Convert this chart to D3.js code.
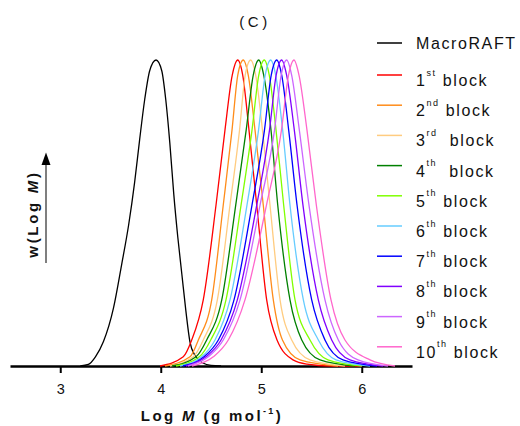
<!DOCTYPE html>
<html>
<head>
<meta charset="utf-8">
<script src="https://cdn.jsdelivr.net/npm/d3@7"></script>
<style>
  body { margin: 0; background: #fff; }
  text { font-family: "Liberation Sans", Arial, sans-serif; fill: #111; }
</style>
</head>
<body>
<div id="chart"></div>
<script>
// GPC traces, [log M, normalised w(log M)]
const macroRAFT = [[3.20,0],[3.28,0.005],[3.35,0.03],[3.43,0.08],[3.53,0.19],[3.61,0.33],[3.68,0.46],[3.74,0.60],[3.79,0.74],[3.84,0.87],[3.89,0.965],[3.953,1.0],[4.01,0.965],[4.05,0.87],[4.09,0.73],[4.13,0.56],[4.17,0.42],[4.21,0.30],[4.25,0.18],[4.29,0.08],[4.34,0.035],[4.42,0.01],[4.5,0.002],[4.6,0]];
const block1 = [[3.993,0],[4.224,0.03],[4.308,0.085],[4.423,0.216],[4.550,0.526],[4.639,0.771],[4.711,0.95],[4.766,1],[4.816,0.95],[4.878,0.771],[4.955,0.526],[5.054,0.216],[5.157,0.085],[5.316,0.02],[5.455,0.006],[5.684,0],[6.0,0]];
const block2 = [[4.042,0],[4.291,0.03],[4.374,0.085],[4.507,0.216],[4.622,0.526],[4.709,0.771],[4.766,0.95],[4.821,1],[4.871,0.95],[4.938,0.771],[5.020,0.526],[5.120,0.216],[5.211,0.085],[5.386,0.02],[5.764,0]];
const block3 = [[4.092,0],[4.324,0.03],[4.423,0.085],[4.563,0.216],[4.689,0.526],[4.784,0.771],[4.840,0.95],[4.895,1],[4.945,0.95],[5.012,0.771],[5.087,0.526],[5.187,0.216],[5.303,0.085],[5.485,0.02],[5.833,0]];
const block4 = [[4.112,0],[4.351,0.03],[4.457,0.085],[4.607,0.216],[4.746,0.526],[4.850,0.771],[4.920,0.95],[4.975,1],[5.025,0.95],[5.097,0.771],[5.164,0.526],[5.286,0.216],[5.403,0.085],[5.585,0.02],[5.933,0]];
const block5 = [[4.152,0],[4.384,0.03],[4.497,0.085],[4.649,0.216],[4.799,0.526],[4.908,0.771],[4.975,0.95],[5.030,1],[5.080,0.95],[5.147,0.771],[5.223,0.526],[5.336,0.216],[5.485,0.085],[5.664,0.02],[6.002,0]];
const block6 = [[4.192,0],[4.407,0.03],[4.540,0.085],[4.689,0.216],[4.858,0.526],[4.973,0.771],[5.039,0.95],[5.094,1],[5.144,0.95],[5.213,0.771],[5.286,0.526],[5.419,0.216],[5.568,0.085],[5.744,0.02],[6.082,0]];
const block7 = [[4.221,0],[4.430,0.03],[4.573,0.085],[4.729,0.216],[4.908,0.526],[5.032,0.771],[5.099,0.95],[5.154,1],[5.204,0.95],[5.273,0.771],[5.356,0.526],[5.502,0.216],[5.634,0.085],[5.813,0.02],[6.152,0]];
const block8 = [[4.251,0],[4.450,0.03],[4.600,0.085],[4.762,0.216],[4.955,0.526],[5.082,0.771],[5.148,0.95],[5.203,1],[5.253,0.95],[5.329,0.771],[5.415,0.526],[5.568,0.216],[5.701,0.085],[5.883,0.02],[6.211,0]];
const block9 = [[4.271,0],[4.473,0.03],[4.622,0.085],[4.789,0.216],[4.988,0.526],[5.132,0.771],[5.198,0.95],[5.253,1],[5.303,0.95],[5.379,0.771],[5.475,0.526],[5.634,0.216],[5.767,0.085],[5.963,0.02],[6.261,0]];
const block10 = [[4.311,0],[4.523,0.03],[4.672,0.085],[4.838,0.216],[5.052,0.526],[5.201,0.771],[5.271,0.95],[5.326,1],[5.376,0.95],[5.455,0.771],[5.548,0.526],[5.694,0.216],[5.833,0.085],[6.082,0.02],[6.331,0]];

const series = [macroRAFT, block1, block2, block3, block4, block5, block6, block7, block8, block9, block10];
const legendNum = ["1", "2", "3", "4", "5", "6", "7", "8", "9", "10"];
const legendSup = ["st", "nd", "rd", "th", "th", "th", "th", "th", "th", "th"];
const legendGap = [" ", " ", "  ", "  ", " ", " ", " ", " ", " ", " "];
const xTicks = [3, 4, 5, 6];

const colors = ["#000000", "#ff0000", "#ff8c1a", "#ffcc80", "#008000", "#80ff00",
                "#66ccff", "#0000ff", "#8000ff", "#cc66ff", "#ff66cc"];

const width = 520, height = 426;

const svg = d3.select("#chart").append("svg")
    .attr("width", width)
    .attr("height", height);

const x = d3.scaleLinear().domain([2.5, 6.5]).range([10, 412]);
const y = d3.scaleLinear().domain([0, 1]).range([366, 60]);

// title
svg.append("text")
    .attr("x", 255).attr("y", 27)
    .attr("text-anchor", "middle")
    .style("font-size", "15px")
    .style("letter-spacing", "3.5px")
    .text("(C)");

// x axis
const axis = svg.append("g")
    .attr("transform", "translate(0,366)")
    .call(d3.axisBottom(x).tickValues(xTicks).tickSize(7).tickSizeOuter(0).tickPadding(10.5).tickFormat(d3.format("d")));
axis.select(".domain").attr("stroke", "#000").attr("stroke-width", 2.6);
axis.selectAll(".tick line").attr("stroke", "#000").attr("stroke-width", 2);
axis.selectAll(".tick text")
    .style("font-size", "14.5px")
    .style("font-family", "'Liberation Sans', Arial, sans-serif")
    .attr("fill", "#111");

const xt = svg.append("text")
    .attr("x", 212).attr("y", 421)
    .attr("text-anchor", "middle")
    .style("font-size", "15px")
    .style("font-weight", "bold")
    .style("letter-spacing", "2.4px");
xt.append("tspan").text("Log ");
xt.append("tspan").style("font-style", "italic").text("M");
xt.append("tspan").text(" (g mol");
xt.append("tspan").attr("dy", -7).style("font-size", "9px").text("-1");
xt.append("tspan").attr("dy", 7).text(")");

// y label with arrow
const yt = svg.append("text")
    .attr("transform", "translate(37.5,214) rotate(-90)")
    .attr("text-anchor", "middle")
    .style("font-size", "15px")
    .style("font-weight", "bold")
    .style("letter-spacing", "2.7px");
yt.append("tspan").text("w(Log ");
yt.append("tspan").style("font-style", "italic").text("M");
yt.append("tspan").text(")");

svg.append("line")
    .attr("x1", 46).attr("x2", 46)
    .attr("y1", 263).attr("y2", 162)
    .attr("stroke", "#555").attr("stroke-width", 1.5);
svg.append("path")
    .attr("d", "M46,152.5L50.5,165L41.5,165Z")
    .attr("fill", "#000");

// curves
const line = d3.line()
    .x(d => x(d[0]))
    .y(d => y(d[1]))
    .curve(d3.curveMonotoneX);

svg.append("g").selectAll("path")
    .data(series)
    .enter()
    .append("path")
    .attr("d", line)
    .attr("fill", "none")
    .attr("stroke", (d, i) => colors[i])
    .attr("stroke-width", 1.3);

// legend
const legend = svg.append("g");
const rowY = i => i === 0 ? 43 : 75 + (i - 1) * 30.2;

series.forEach((s, i) => {
    const ly = rowY(i);
    legend.append("line")
        .attr("x1", 377).attr("x2", 402)
        .attr("y1", ly).attr("y2", ly)
        .attr("stroke", colors[i]).attr("stroke-width", 1.5);

    const t = legend.append("text")
        .attr("x", 416)
        .attr("xml:space", "preserve")
        .style("white-space", "pre")
        .style("font-size", "16px")
        .style("letter-spacing", "1.6px");

    if (i === 0) {
        t.attr("y", ly + 6.3).text("MacroRAFT");
    } else {
        t.attr("y", ly + 11);
        t.append("tspan").text(legendNum[i - 1]);
        t.append("tspan").attr("dy", -10.5).style("font-size", "9px").text(legendSup[i - 1]);
        t.append("tspan").attr("dy", 10.5).text(legendGap[i - 1] + "block");
    }
});
</script>
</body>
</html>
